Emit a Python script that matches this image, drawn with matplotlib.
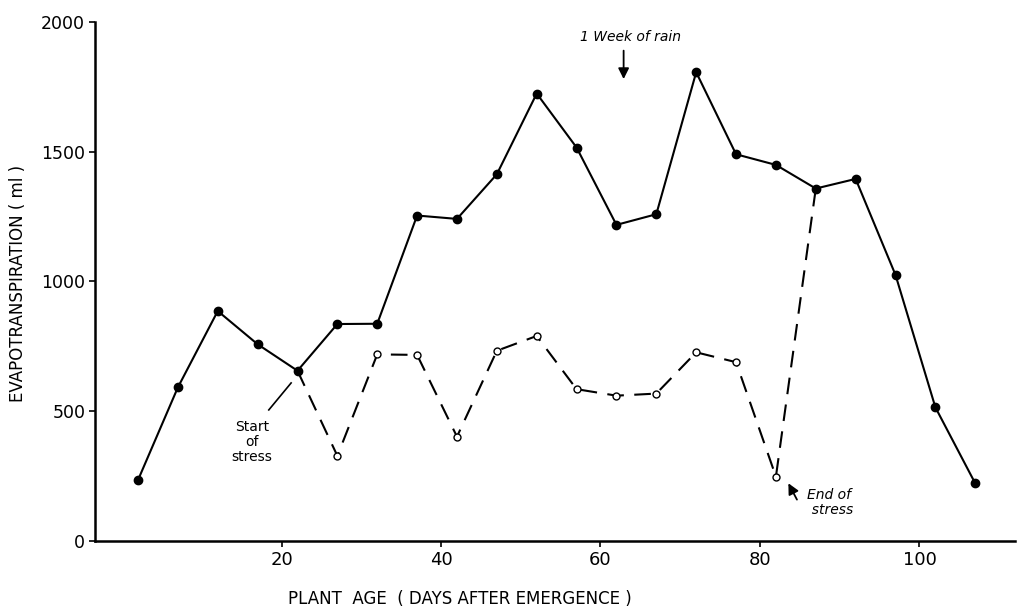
import matplotlib
matplotlib.use("Agg")
import matplotlib.pyplot as plt

# plant age (days after emergence) and evapotranspiration (ml)
days = [2, 7, 12, 17, 22, 27, 32, 37, 42, 47, 52, 57, 62, 67, 72, 77, 82,
        87, 92, 97, 102, 107]
control_et = [235, 592, 886, 758, 656, 836, 837, 1254, 1241, 1413, 1724,
              1516, 1218, 1259, 1806, 1490, 1449, 1358, 1395, 1025, 515, 222]

stress_days = [22, 27, 32, 37, 42, 47, 52, 57, 62, 67, 72, 77, 82, 87]
stress_et = [656, 328, 719, 717, 402, 733, 790, 585, 560, 568, 727, 689,
             248, 1358]

x_ticks = [20, 40, 60, 80, 100]
y_ticks = [0, 500, 1000, 1500, 2000]


def main():
    fig = plt.figure(figsize=(10.19, 6.10), dpi=100)
    ax = fig.add_axes([0.0932, 0.1131, 0.903, 0.851])

    # stressed plants (dashed, open markers), drawn first so solid sits on top
    ax.plot(stress_days[1:-1], stress_et[1:-1], linestyle="none", marker="o",
            markersize=5, markerfacecolor="white", markeredgecolor="black",
            markeredgewidth=1.0, zorder=3)
    ax.plot(stress_days, stress_et, color="black", linewidth=1.5,
            dashes=(8, 5), zorder=2)

    # control (solid line, filled markers)
    ax.plot(days, control_et, color="black", linewidth=1.5, marker="o",
            markersize=6, markerfacecolor="black", zorder=4)

    ax.set_xlim(-3.4, 112)
    ax.set_ylim(0, 2000)
    ax.set_xticks(x_ticks)
    ax.set_yticks(y_ticks)
    ax.set_xticklabels([str(t) for t in x_ticks], fontsize=13)
    ax.set_yticklabels([str(t) for t in y_ticks], fontsize=12.5)
    ax.tick_params(direction="out", length=4, width=1.2, pad=3)

    for side in ["top", "right"]:
        ax.spines[side].set_visible(False)
    ax.spines["left"].set_linewidth(1.8)
    ax.spines["bottom"].set_linewidth(1.8)

    ax.set_ylabel("EVAPOTRANSPIRATION ( ml )", fontsize=12)
    ax.yaxis.set_label_coords(-0.074, 0.497)
    ax.set_xlabel("PLANT  AGE  ( DAYS AFTER EMERGENCE )", fontsize=12)
    ax.xaxis.set_label_coords(0.397, -0.095)

    # annotations
    ax.annotate("", xy=(62.9, 1769), xytext=(62.9, 1900),
                arrowprops=dict(arrowstyle="-|>", color="black", lw=1.3,
                                mutation_scale=16))
    ax.text(63.8, 1942, "1 Week of rain", fontsize=10, ha="center",
            va="center", style="italic")

    ax.plot([18.4, 21.2], [505, 609], color="black", linewidth=1.2)
    ax.text(16.3, 381, "Start\nof\nstress", fontsize=10, ha="center",
            va="center", linespacing=1.1)

    ax.annotate("", xy=(83.4, 232), xytext=(84.8, 150),
                arrowprops=dict(arrowstyle="-|>", color="black", lw=1.3,
                                mutation_scale=16))
    ax.text(88.6, 150, "End of\n  stress", fontsize=10, ha="center",
            va="center", style="italic", linespacing=1.1)

    plt.savefig("out.png", dpi=100)


if __name__ == "__main__":
    main()
